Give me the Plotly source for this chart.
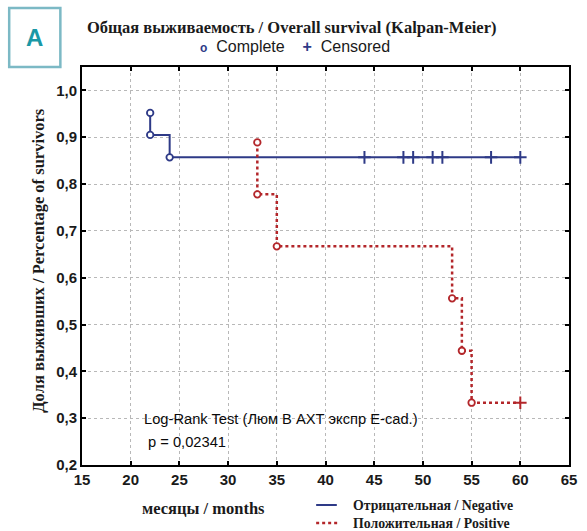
import plotly.graph_objects as go

# Kaplan-Meier estimates by E-cadherin expression group
neg_months = [22, 22, 24, 60]
neg_surv = [0.952, 0.905, 0.857, 0.857]
neg_event_months = [22, 22, 24]
neg_event_surv = [0.952, 0.905, 0.857]
neg_cens_months = [44, 48, 49, 51, 52, 57, 60]
neg_cens_surv = [0.857, 0.857, 0.857, 0.857, 0.857, 0.857, 0.857]

pos_months = [33, 33, 35, 53, 54, 55, 60]
pos_surv = [0.889, 0.778, 0.667, 0.556, 0.444, 0.333, 0.333]
pos_event_months = [33, 33, 35, 53, 54, 55]
pos_event_surv = [0.889, 0.778, 0.667, 0.556, 0.444, 0.333]
pos_cens_months = [60]
pos_cens_surv = [0.333]

x_ticks = [15, 20, 25, 30, 35, 40, 45, 50, 55, 60, 65]
y_ticks = [0.2, 0.3, 0.4, 0.5, 0.6, 0.7, 0.8, 0.9, 1.0]

NAVY = "#2e3a87"
RED = "#b3262a"
TEAL = "#1a98a6"

W, H = 587, 531
L, R, T, B = 82, 10, 67, 66
PW, PH = W - L - R, H - T - B


def px(xp):
    return (xp - L) / PW


def py(yp):
    return (H - B - yp) / PH


fig = go.Figure()

fig.add_trace(go.Scatter(x=neg_months, y=neg_surv, mode="lines", line_shape="hv",
                         line=dict(color=NAVY, width=2), hoverinfo="skip"))
fig.add_trace(go.Scatter(x=pos_months, y=pos_surv, mode="lines", line_shape="hv",
                         line=dict(color=RED, width=2.5, dash="3px,3px"), hoverinfo="skip"))

for xs, ys, c in [(neg_event_months, neg_event_surv, NAVY), (pos_event_months, pos_event_surv, RED)]:
    fig.add_trace(go.Scatter(x=xs, y=ys, mode="markers",
                             marker=dict(symbol="circle", size=6.5, color="white",
                                         line=dict(color=c, width=1.8))))
for xs, ys, c in [(neg_cens_months, neg_cens_surv, NAVY), (pos_cens_months, pos_cens_surv, RED)]:
    fig.add_trace(go.Scatter(x=xs, y=ys, mode="markers",
                             marker=dict(symbol="cross-thin", size=9,
                                         line=dict(color=c, width=2))))

axis_common = dict(
    showline=True, linecolor="black", linewidth=2, mirror="ticks",
    ticks="inside", ticklen=4, tickwidth=1.5, tickcolor="black",
    showgrid=True, gridcolor="#b8b8b8", griddash="dot", gridwidth=1.2,
    zeroline=False,
    tickfont=dict(family="Liberation Sans, Arial", size=15, color="#1a1a1a", weight="bold"),
)

fig.update_xaxes(range=[15, 65], tickvals=x_ticks, **axis_common)
fig.update_yaxes(range=[0.2, 1.05], tickvals=y_ticks, tickformat=".1f", **axis_common)

serif = "Liberation Serif, Times New Roman"

annotations = [
    dict(x=px(295), y=py(27), text="<b>Общая выживаемость / Overall survival (Kalpan-Meier)</b>",
         font=dict(family=serif, size=16.5, color="#1a1a1a")),
    dict(x=px(299), y=py(46),
         text=f"<span style='color:{NAVY};font-size:12px'><b>o</b></span>  Complete    <span style='color:{NAVY}'><b>+</b></span>  Censored",
         font=dict(family="Liberation Sans, Arial", size=16, color="#1a1a1a")),
    dict(x=px(37), y=py(260), text="<b>Доля выживших / Percentage of survivors</b>", textangle=-90,
         font=dict(family=serif, size=16.5, color="#1a1a1a")),
    dict(x=px(205), y=py(508), text="<b>месяцы / months</b>",
         font=dict(family=serif, size=16.5, color="#1a1a1a")),
    dict(x=px(355), y=py(505), text="<b>Отрицательная / Negative</b>", xanchor="left",
         font=dict(family=serif, size=13.8, color="#1a1a1a")),
    dict(x=px(355), y=py(523), text="<b>Положительная / Positive</b>", xanchor="left",
         font=dict(family=serif, size=13.8, color="#1a1a1a")),
    dict(x=px(143), y=py(419), text="Log-Rank Test (Люм В АХТ экспр E-cad.)", xanchor="left",
         font=dict(family="Liberation Sans, Arial", size=14.7, color="#0a0a0a")),
    dict(x=px(147), y=py(442), text="p = 0,02341", xanchor="left",
         font=dict(family="Liberation Sans, Arial", size=14.7, color="#0a0a0a")),
    dict(x=px(34), y=py(38), text="<b>A</b>",
         font=dict(family="Liberation Sans, Arial", size=24, color=TEAL)),
]
for a in annotations:
    a.setdefault("xanchor", "center")
    a.update(xref="paper", yref="paper", yanchor="middle", showarrow=False)

shapes = [
    dict(type="rect", xref="paper", yref="paper", x0=px(8), x1=px(60), y0=py(67), y1=py(8),
         line=dict(color="#7cb9c5", width=2.5)),
    dict(type="line", xref="paper", yref="paper", x0=px(320), x1=px(341), y0=py(505), y1=py(505),
         line=dict(color=NAVY, width=2)),
    dict(type="line", xref="paper", yref="paper", x0=px(320), x1=px(343), y0=py(523), y1=py(523),
         line=dict(color=RED, width=2.5, dash="3px,3px")),
]

fig.update_layout(
    width=W, height=H,
    margin=dict(l=L, r=R, t=T, b=B, pad=0),
    paper_bgcolor="white", plot_bgcolor="white",
    separators=",.",
    showlegend=False,
    annotations=annotations,
    shapes=shapes,
)

fig.write_html("out.html")
